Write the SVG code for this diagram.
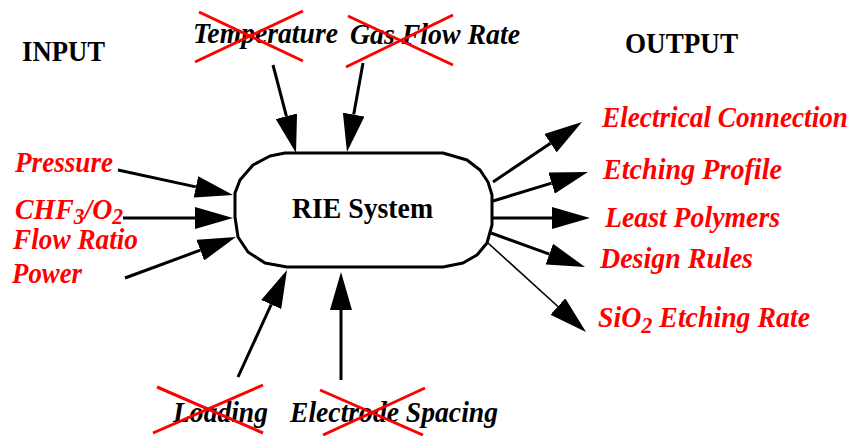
<svg xmlns="http://www.w3.org/2000/svg" width="854" height="436" viewBox="0 0 854 436">
<style>
.t{font-family:"Liberation Serif","Times New Roman",serif;font-weight:bold;font-style:italic;font-size:30px}
.red{fill:#ff0000}
.blk{fill:#000}
.hdr{font-family:"Liberation Serif","Times New Roman",serif;font-weight:bold;font-size:30px;fill:#000}
.ar{stroke:#000;stroke-width:3;fill:none;marker-end:url(#ah)}
.thin{stroke-width:1.6}
.x{stroke:#ff0000;stroke-width:3;fill:none}
</style>
<defs>
<marker id="ah" markerUnits="userSpaceOnUse" markerWidth="38" markerHeight="22" viewBox="0 0 38 22" refX="0" refY="11" orient="auto">
<path d="M0,0 L38,11 L0,22 z" fill="#000"/>
</marker>
</defs>
<rect width="854" height="436" fill="#fff"/>

<g id="headers">
<text class="hdr" x="22" y="61" textLength="83" lengthAdjust="spacingAndGlyphs">INPUT</text>
<text class="hdr" x="625" y="53" textLength="113" lengthAdjust="spacingAndGlyphs">OUTPUT</text>
</g>

<g id="rie-system">
<path d="M285,153 L443,153 L467,160 L480,170 L488,182 L492,195 L492,225 L487,243 L477,255 L463,263 L443,267 L287,267 L265,263 L248,252 L238,237 L235,217 L235,193 L240,180 L253,165 L270,156 Z" fill="#fff" stroke="#000" stroke-width="3" stroke-linejoin="round"/>
<text class="hdr" x="292" y="218" textLength="141" lengthAdjust="spacingAndGlyphs">RIE System</text>
</g>

<g id="connectors">
<line class="ar" x1="273" y1="65" x2="286.4" y2="116.2"/>
<line class="ar" x1="363" y1="63" x2="353.7" y2="114.6"/>
<line class="ar" x1="118" y1="170" x2="195.9" y2="186.9"/>
<line class="ar" x1="123" y1="218" x2="195" y2="218"/>
<line class="ar" x1="125" y1="278" x2="200.3" y2="250.2"/>
<line class="ar" x1="238" y1="377" x2="271.2" y2="304.5"/>
<line class="ar" x1="341" y1="380" x2="341" y2="310"/>
<line class="ar" x1="493" y1="182" x2="550.5" y2="143.2"/>
<line class="ar" x1="493" y1="201" x2="551.6" y2="183.1"/>
<line class="ar" x1="492" y1="218" x2="552" y2="218"/>
<line class="ar" x1="491" y1="233" x2="549.3" y2="254.1"/>
<line class="ar thin" x1="488" y1="243" x2="557.9" y2="306.5"/>
</g>

<g id="temperature">
<text class="t blk" x="193" y="43" textLength="145" lengthAdjust="spacingAndGlyphs">Temperature</text>
<line class="x" x1="199" y1="12" x2="303" y2="61"/>
<line class="x" x1="195" y1="62" x2="303" y2="11"/>
</g>
<g id="gas-flow-rate">
<text class="t blk" x="350" y="44" textLength="170" lengthAdjust="spacingAndGlyphs">Gas Flow Rate</text>
<line class="x" x1="348" y1="16" x2="453" y2="65"/>
<line class="x" x1="346" y1="67" x2="453" y2="15"/>
</g>

<g id="pressure"><text class="t red" x="15" y="172" textLength="98" lengthAdjust="spacingAndGlyphs">Pressure</text></g>
<g id="chf3-o2-flow-ratio">
<text class="t red" x="15" y="219" textLength="108" lengthAdjust="spacingAndGlyphs">CHF<tspan font-size="23" dy="5">3</tspan><tspan dy="-5">/O</tspan><tspan font-size="23" dy="5">2</tspan></text>
<text class="t red" x="13" y="249" textLength="125" lengthAdjust="spacingAndGlyphs">Flow Ratio</text>
</g>
<g id="power"><text class="t red" x="12" y="283" textLength="70" lengthAdjust="spacingAndGlyphs">Power</text></g>

<g id="loading">
<text class="t blk" x="173" y="422" textLength="95" lengthAdjust="spacingAndGlyphs">Loading</text>
<line class="x" x1="157" y1="387" x2="263" y2="433"/>
<line class="x" x1="153" y1="433" x2="263" y2="385"/>
</g>
<g id="electrode-spacing">
<text class="t blk" x="290" y="422" textLength="208" lengthAdjust="spacingAndGlyphs">Electrode Spacing</text>
<line class="x" x1="320" y1="390" x2="423" y2="435"/>
<line class="x" x1="323" y1="435" x2="425" y2="388"/>
</g>

<g id="electrical-connection"><text class="t red" x="602" y="127" textLength="246" lengthAdjust="spacingAndGlyphs">Electrical Connection</text></g>
<g id="etching-profile"><text class="t red" x="603" y="179" textLength="179" lengthAdjust="spacingAndGlyphs">Etching Profile</text></g>
<g id="least-polymers"><text class="t red" x="605" y="227" textLength="175" lengthAdjust="spacingAndGlyphs">Least Polymers</text></g>
<g id="design-rules"><text class="t red" x="600" y="268" textLength="153" lengthAdjust="spacingAndGlyphs">Design Rules</text></g>
<g id="sio2-etching-rate"><text class="t red" x="598" y="327" textLength="212" lengthAdjust="spacingAndGlyphs">SiO<tspan font-size="24" dy="6">2</tspan><tspan dy="-6"> Etching Rate</tspan></text></g>
</svg>
